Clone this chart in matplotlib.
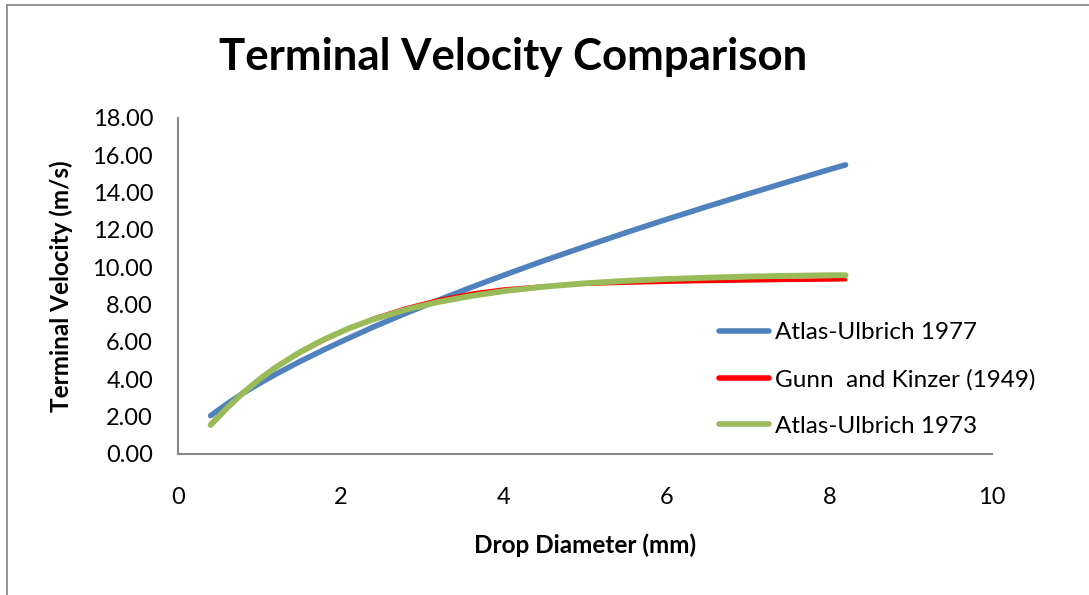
import matplotlib
matplotlib.use("Agg")
import matplotlib.pyplot as plt
from matplotlib.lines import Line2D

plt.rcParams["font.family"] = ["Lato", "DejaVu Sans"]

# drop diameter (mm) and terminal velocity (m/s) for each relation
diameter = [0.4, 0.6, 0.8, 1.0, 1.2, 1.5, 1.8, 2.1, 2.4, 2.8, 3.2, 3.6,
            4.0, 4.5, 5.0, 5.5, 6.0, 6.5, 7.0, 7.5, 8.0, 8.2]
atlas_1977 = [2.05, 2.68, 3.26, 3.78, 4.27, 4.96, 5.60, 6.21, 6.80, 7.54, 8.24, 8.92,
              9.57, 10.36, 11.11, 11.85, 12.56, 13.25, 13.92, 14.58, 15.23, 15.48]
gunn_kinzer = [1.62, 2.47, 3.27, 4.03, 4.64, 5.41, 6.09, 6.70, 7.27, 7.82, 8.26, 8.60,
               8.83, 9.00, 9.09, 9.15, 9.20, 9.24, 9.27, 9.30, 9.32, 9.33]
atlas_1973 = [1.55, 2.46, 3.28, 4.00, 4.64, 5.46, 6.15, 6.73, 7.21, 7.73, 8.14, 8.46,
              8.72, 8.96, 9.14, 9.27, 9.37, 9.44, 9.50, 9.54, 9.57, 9.57]

series = [
    ("Atlas-Ulbrich 1977", atlas_1977, "#4F81BD", 4.0),
    ("Gunn  and Kinzer (1949)", gunn_kinzer, "#FF0000", 2.6),
    ("Atlas-Ulbrich 1973", atlas_1973, "#9BBB59", 4.2),
]

fig = plt.figure(figsize=(10.89, 5.95), dpi=100)
ax = fig.add_axes([0.1635, 0.237, 0.7475, 0.565])

handles = []
for label, vals, color, lw in series:
    ax.plot(diameter, vals, color=color, lw=lw, solid_capstyle="round")
    handles.append(Line2D([], [], color=color, lw=4.0, solid_capstyle="round", label=label))

ax.set_xlim(0, 10)
ax.set_ylim(0, 18)
ax.set_xticks(range(0, 11, 2))
ax.set_yticks(range(0, 19, 2))
ax.set_yticklabels([f"{v:.2f}" for v in range(0, 19, 2)])
ax.tick_params(axis="both", length=0, labelsize=17)
ax.tick_params(axis="x", pad=24)
ax.tick_params(axis="y", pad=18)

for side in ("top", "right"):
    ax.spines[side].set_visible(False)
for side in ("left", "bottom"):
    ax.spines[side].set_color("#868686")
    ax.spines[side].set_linewidth(1.5)

ax.set_xlabel("Drop Diameter (mm)", fontsize=17.5, fontweight="bold", labelpad=18)
ax.set_ylabel("Terminal Velocity (m/s)", fontsize=17.5, fontweight="bold", labelpad=14)

fig.text(0.471, 0.905, "Terminal Velocity Comparison", fontsize=31.5,
         fontweight="bold", ha="center", va="center")

fig.legend(handles=handles, loc="center left", bbox_to_anchor=(0.640, 0.362),
           frameon=False, fontsize=17.5, handlelength=2.05, handletextpad=0.25,
           labelspacing=1.05)

# chart area border
fig.add_artist(Line2D([7 / 1089, 7 / 1089], [0, 1 - 5 / 595], transform=fig.transFigure,
                      color="#868686", lw=1.2))
fig.add_artist(Line2D([7 / 1089, 1], [1 - 5 / 595, 1 - 5 / 595], transform=fig.transFigure,
                      color="#868686", lw=1.2))

fig.savefig("out.png", dpi=100)
